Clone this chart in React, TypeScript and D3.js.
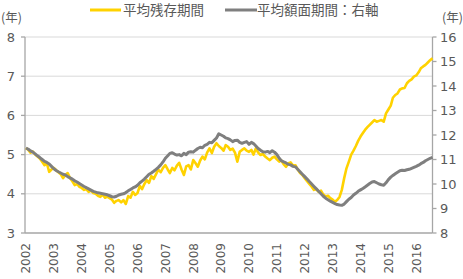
import { useMemo } from 'react';
import * as d3 from 'd3';

const W = 463;
const H = 279;

// Monthly series, Jan 2002 .. Aug 2016
const avgRemaining: number[] = [
  5.17, 5.12, 5.05, 5.08, 5.0, 4.95, 4.9, 4.82, 4.73, 4.78, 4.56, 4.62,
  4.66, 4.6, 4.55, 4.5, 4.4, 4.48, 4.53, 4.4, 4.32, 4.22, 4.25, 4.18,
  4.15, 4.1, 4.12, 4.05, 4.08, 4.02, 4.0, 3.95, 3.92, 3.98, 3.9, 3.93,
  3.89, 3.85, 3.77, 3.82, 3.84, 3.78, 3.84, 3.74, 3.94, 3.9, 4.05, 3.97,
  4.02, 4.2, 4.12, 4.25, 4.35, 4.28, 4.45, 4.38, 4.5, 4.62, 4.55, 4.66,
  4.73, 4.62, 4.53, 4.66, 4.6, 4.72, 4.79, 4.62, 4.48, 4.7, 4.73, 4.62,
  4.86, 4.78, 4.69, 4.85, 4.95, 4.88, 5.05, 5.16, 5.04, 5.2, 5.29, 5.22,
  5.17, 5.1, 5.24, 5.2, 5.12, 5.15, 5.05, 4.82, 5.07, 5.12, 5.16, 5.1,
  5.07, 5.12, 5.0, 5.16, 5.05, 4.99, 5.02, 4.95, 4.9, 4.86, 4.92, 4.95,
  4.88, 4.82, 4.85, 4.75, 4.69, 4.78, 4.8, 4.72, 4.73, 4.62, 4.53, 4.48,
  4.4, 4.32, 4.25, 4.18, 4.1, 4.12, 4.05, 4.08, 3.98, 3.93, 3.95, 3.89,
  3.85, 3.8, 3.84, 3.92, 4.1, 4.4, 4.65, 4.82, 5.0, 5.1, 5.22, 5.35,
  5.46, 5.55, 5.63, 5.7, 5.76, 5.82, 5.88, 5.84, 5.86, 5.88, 5.84, 6.05,
  6.15, 6.25, 6.45, 6.52, 6.56, 6.66, 6.69, 6.7, 6.82, 6.88, 6.92, 6.99,
  7.02, 7.1, 7.2, 7.25, 7.29, 7.35, 7.41, 7.46,
];

const avgFaceValue: number[] = [
  11.47, 11.42, 11.35, 11.3, 11.23, 11.15, 11.08, 11.0, 10.92, 10.88, 10.82, 10.72,
  10.62, 10.55, 10.5, 10.45, 10.4, 10.37, 10.3, 10.25, 10.2, 10.13, 10.08, 10.02,
  9.96, 9.9, 9.85, 9.8, 9.75, 9.7, 9.67, 9.64, 9.62, 9.6, 9.58, 9.56,
  9.52, 9.48, 9.47, 9.5, 9.55, 9.58, 9.6, 9.65, 9.72, 9.78, 9.84, 9.88,
  9.95, 10.05, 10.12, 10.2, 10.3, 10.4, 10.45, 10.52, 10.6, 10.68, 10.78, 10.9,
  11.05, 11.15, 11.25, 11.28, 11.22, 11.18, 11.2, 11.15, 11.25, 11.2, 11.3, 11.32,
  11.3, 11.38, 11.45, 11.5, 11.48, 11.58, 11.62, 11.7, 11.68, 11.78, 11.88, 12.05,
  12.0, 11.95, 11.88, 11.85, 11.8, 11.73, 11.78, 11.79, 11.7, 11.66, 11.7, 11.73,
  11.62, 11.7, 11.65, 11.55, 11.45, 11.38, 11.32, 11.3, 11.33, 11.28, 11.36, 11.3,
  11.2, 11.05, 10.95, 10.9, 10.86, 10.8, 10.78, 10.72, 10.7, 10.6, 10.5, 10.4,
  10.3, 10.2, 10.1, 10.0, 9.9, 9.8, 9.7, 9.6, 9.5, 9.42, 9.36, 9.3,
  9.25, 9.2, 9.16, 9.14, 9.13, 9.18, 9.28, 9.38, 9.45, 9.55, 9.62, 9.7,
  9.76, 9.82, 9.88, 9.95, 10.02, 10.08, 10.1, 10.05, 10.0, 9.97, 9.95, 10.05,
  10.18, 10.28, 10.35, 10.42, 10.48, 10.54, 10.56, 10.55, 10.58, 10.6, 10.64, 10.68,
  10.72, 10.77, 10.83, 10.88, 10.95, 11.0, 11.05, 11.09,
];

const years = d3.range(2002, 2017);
const leftTicks = [3, 4, 5, 6, 7, 8];
const rightTicks = [8, 9, 10, 11, 12, 13, 14, 15, 16];

const YELLOW = '#FFD200';
const GREY = '#7F7F7F';
const AXIS = '#A6A6A6';
const GRID = '#D9D9D9';
const TEXT = '#595959';
const FONT = '"DejaVu Sans", Verdana, sans-serif';
const CJK = '"Noto Sans CJK JP", sans-serif';

const monthDate = (i: number) => new Date(2002, i, 1);

export default function App() {
  const left = 25;
  const right = 432.5;
  const top = 37;
  const bottom = 233;

  const x = d3
    .scaleTime()
    .domain([monthDate(0), monthDate(avgRemaining.length - 1)])
    .range([26, right]);
  const yL = d3.scaleLinear().domain([3, 8]).range([bottom, top]);
  const yR = d3.scaleLinear().domain([8, 16]).range([bottom, top]);

  const paths = useMemo(() => {
    const lineL = d3
      .line<number>()
      .x((_, i) => x(monthDate(i)))
      .y((v) => yL(v));
    const lineR = d3
      .line<number>()
      .x((_, i) => x(monthDate(i)))
      .y((v) => yR(v));
    return { yellow: lineL(avgRemaining) ?? '', grey: lineR(avgFaceValue) ?? '' };
  }, []);

  return (
    <svg
      width={W}
      height={H}
      viewBox={`0 0 ${W} ${H}`}
      style={{ position: 'absolute', left: 0, top: 0, background: '#fff' }}
    >
      {/* legend */}
      <g fontFamily={CJK} fontSize={13.5} fill={TEXT}>
        <line x1={90} x2={121} y1={10} y2={10} stroke={YELLOW} strokeWidth={3} />
        <text x={123} y={15}>平均残存期間</text>
        <line x1={225} x2={257} y1={10} y2={10} stroke={GREY} strokeWidth={3} />
        <text x={257} y={15}>平均額面期間：右軸</text>
      </g>
      <g fontFamily={CJK} fontSize={12.5} fill={TEXT}>
        <text x={1} y={22}>(年)</text>
        <text x={442} y={22}>(年)</text>
      </g>

      {/* gridlines */}
      {leftTicks.slice(1).map((t) => (
        <line key={t} x1={left} x2={right} y1={yL(t)} y2={yL(t)} stroke={GRID} strokeWidth={1} />
      ))}

      {/* axes */}
      <g stroke={AXIS} strokeWidth={1.3} fill="none">
        <line x1={left} x2={left} y1={top} y2={bottom} />
        <line x1={right} x2={right} y1={top} y2={bottom} />
        <line x1={left} x2={right} y1={bottom} y2={bottom} />
        {leftTicks.map((t) => (
          <line key={t} x1={left - 4} x2={left} y1={yL(t)} y2={yL(t)} />
        ))}
        {rightTicks.map((t) => (
          <line key={t} x1={right} x2={right + 4} y1={yR(t)} y2={yR(t)} />
        ))}
      </g>

      <g fontFamily={FONT} fontSize={13} fill={TEXT}>
        {leftTicks.map((t) => (
          <text key={t} x={15} y={yL(t)} dy="0.36em" textAnchor="end">
            {t}
          </text>
        ))}
        {rightTicks.map((t) => (
          <text key={t} x={440} y={yR(t)} dy="0.36em">
            {t}
          </text>
        ))}
      </g>
      <g fontFamily={FONT} fontSize={12} fill={TEXT}>
        {years.map((yr) => (
          <text
            key={yr}
            transform={`translate(${x(new Date(yr, 0, 1))},243) rotate(-90)`}
            textAnchor="end"
            dy="0.36em"
          >
            {yr}
          </text>
        ))}
      </g>

      {/* series */}
      <path d={paths.yellow} fill="none" stroke={YELLOW} strokeWidth={2.6} strokeLinejoin="round" />
      <path d={paths.grey} fill="none" stroke={GREY} strokeWidth={3} strokeLinejoin="round" />
    </svg>
  );
}
